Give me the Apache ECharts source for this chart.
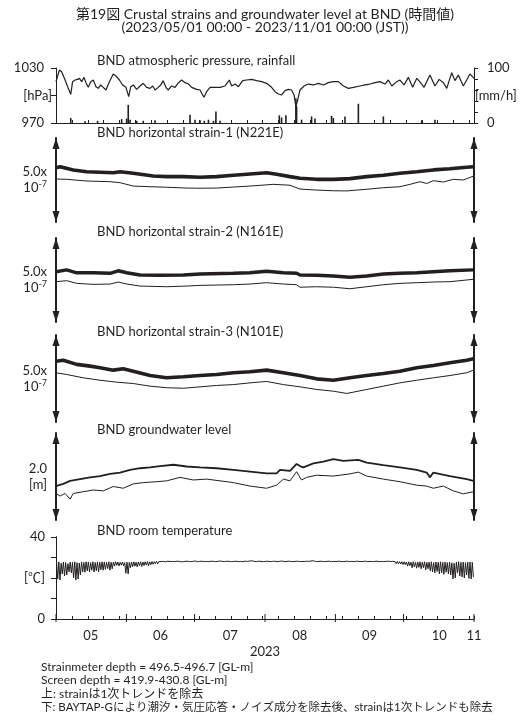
<!DOCTYPE html>
<html><head><meta charset="utf-8">
<script src="https://cdn.jsdelivr.net/npm/echarts@6/dist/echarts.min.js"></script>
<style>html,body{margin:0;padding:0;background:#fff}#c{width:524px;height:722px}</style>
</head><body><div id="c"></div>
<script>
// ---------------- data (x = days since 2023/05/01 00:00 JST) ----------------
const monthLabels = ['05','06','07','08','09','10','11'];
const monthStartDays = [0,31,61,92,123,153,184];

const pressDays = [0,1.5,2.5,4.0,5.4,6.5,7.3,8.4,9.4,10.3,11.3,12.3,13.2,14.2,15.3,16.4,17.6,18.6,19.7,20.8,22.0,23.5,25.2,26.4,27.9,29.3,30.8,32.0,32.9,34.0,35.5,37.0,38.4,39.9,41.4,42.6,43.6,45.0,46.1,47.2,48.4,49.4,50.9,52.4,53.9,55.3,56.8,58.3,59.7,61.9,63.4,65.1,66.3,67.8,70.0,72.2,74.4,76.3,77.3,78.8,80.3,82.2,83.9,86.1,88.3,90.5,92.7,94.9,96.4,97.9,99.3,100.8,102.3,103.7,104.8,105.6,106.4,107.4,109.2,111.1,113.3,115.5,117.7,119.9,122.1,124.3,126.5,128.7,130.9,133.8,136.0,138.2,140.4,142.6,144.8,146.3,147.8,150.0,151.4,153.2,155.1,157.0,158.8,160.5,162.0,164.6,166.8,168.7,170.5,172.0,174.2,175.6,177.1,179.3,180.8,182.2,184.0];
const pressHPa = [1015.1,1027.8,1026.0,1016.9,1007.8,1001.3,1015.1,1016.9,1017.6,1018.7,1015.1,1019.8,1014.0,1008.9,1015.1,1016.9,1009.6,1007.8,1011.5,1008.9,1006.0,1015.1,1023.5,1021.3,1016.9,1011.5,1008.9,998.7,1009.6,1011.5,1006.7,1010.4,1013.3,1008.9,1007.8,1010.4,1006.0,1008.9,1011.5,1016.2,1008.9,1006.0,1010.4,1008.9,1014.0,1016.9,1014.0,1012.5,1008.9,1006.7,1006.0,998.0,1004.2,1008.9,1008.9,1008.9,1010.4,1016.9,1010.4,1012.5,1009.6,1016.2,1016.9,1017.6,1016.2,1015.1,1013.3,1008.9,1004.2,1001.6,1000.5,1005.3,1006.7,1006.0,1000.5,987.8,995.1,1006.0,1010.4,1012.5,1011.5,1013.3,1011.5,1014.0,1015.1,1015.1,1010.4,1007.8,1008.9,1010.4,1011.5,1012.5,1014.0,1015.1,1012.5,1016.9,1010.4,1015.1,1016.9,1011.5,1019.8,1008.9,1018.7,1014.0,1008.9,1022.4,1010.4,1017.6,1014.0,1007.8,1024.9,1016.2,1022.4,1010.4,1016.9,1023.5,1018.7];

const rainDays = [6.5,12.8,18.3,28.9,31.1,31.8,32.6,35.5,38.4,43.6,59.0,61.2,63.4,65.3,67.1,69.3,70.4,72.2,98.3,99.3,101.2,105.6,105.9,108.1,112.5,114.0,121.3,122.1,127.2,133.1,144.1,161.0,166.8];
const rainMmH = [9,3,4,7,8,33,6,4,4,5,15,6,5,4,6,4,21,4,14,10,14,45,30,6,12,8,13,9,12,35,12,5,6];

// strains in units of 1e-8 (arrow = 5.0e-7)
const s1UpDays = [0,1.8,7.6,13.5,19.4,25.2,28.2,34.0,42.8,48.7,56.1,63.4,70.7,78.1,85.4,92.7,97.1,103.0,107.4,114.7,122.1,129.4,136.8,144.1,151.4,158.8,166.1,173.4,180.8,183.7];
const s1Up = [7.3,7.9,6.0,4.9,4.6,4.3,4.9,4.0,2.4,2.0,2.0,1.6,2.0,2.8,3.6,4.3,3.4,2.0,1.0,0.4,0.4,0.8,2.0,2.8,4.0,4.9,6.0,6.7,7.6,7.9];
const s1LoDays = [0,4.7,13.5,23.8,28.2,34.0,41.4,48.7,57.5,63.4,70.7,78.1,85.4,95.7,103.0,107.4,114.7,122.1,128.0,136.8,144.1,151.4,155.8,160.2,163.2,166.1,170.5,174.9,179.3,183.9];
const s1Lo = [0.6,0.4,-0.6,-1.0,-1.6,-3.6,-4.0,-4.3,-4.8,-4.9,-4.8,-4.2,-3.6,-2.6,-3.1,-5.4,-6.0,-6.4,-6.5,-5.5,-4.6,-4.0,-2.6,-1.0,-2.1,-0.4,-1.2,0.4,0.0,2.4];

const s2UpDays = [0,4.7,9.1,16.4,23.8,27.4,31.1,37.0,45.8,56.1,63.4,78.1,85.4,92.7,100.1,105.9,107.4,114.7,122.1,129.4,136.8,144.1,151.4,158.8,166.1,173.4,183.7];
const s2Up = [4.9,6.0,4.3,4.3,4.0,5.5,4.3,3.0,2.8,3.0,3.6,4.0,4.3,5.2,4.3,4.0,3.0,2.8,2.4,1.6,2.4,3.6,4.0,4.3,4.9,5.5,6.0];
const s2LoDays = [0,4.7,9.1,16.4,23.8,27.4,31.1,37.0,48.7,57.5,63.4,78.1,85.4,92.7,100.1,105.9,107.4,114.7,122.1,129.4,136.8,144.1,151.4,158.8,166.1,173.4,183.7];
const s2Lo = [-1.0,-0.4,-2.0,-2.6,-2.4,-1.2,-2.4,-3.6,-4.0,-3.6,-3.2,-2.8,-2.4,-1.6,-2.4,-2.8,-4.3,-4.0,-4.3,-5.2,-4.0,-2.8,-2.0,-1.6,-1.2,-1.0,0.4];

const s3UpDays = [0,3.2,9.1,15.0,19.4,25.2,29.6,34.0,41.4,48.7,56.1,63.4,70.7,78.1,85.4,92.7,100.1,107.4,114.7,122.1,129.4,136.8,144.1,151.4,158.8,166.1,173.4,180.8,183.7];
const s3Up = [9.9,10.5,8.1,7.1,6.2,4.8,5.6,4.2,1.7,0.4,1.0,1.7,2.3,3.3,3.9,4.8,3.3,1.7,-0.2,-1.0,0.4,1.7,2.9,4.2,6.2,7.5,9.0,10.5,11.3];
const s3LoDays = [0,4.7,12.0,19.4,26.7,34.0,41.4,48.7,56.1,63.4,70.7,78.1,85.4,92.7,100.1,107.4,114.7,122.1,128.0,136.8,144.1,151.4,158.8,166.1,173.4,180.8,183.7];
const s3Lo = [3.3,2.3,0.4,-1.0,-2.1,-2.9,-4.4,-5.3,-5.6,-4.8,-4.0,-3.5,-2.5,-1.7,-3.5,-4.8,-6.3,-7.3,-8.6,-6.3,-4.4,-2.5,-1.0,0.4,1.7,3.3,4.8];

// groundwater level in m (arrow = 2.0 m)
const gwUpDays = [0,3.2,6.2,10.6,15.0,19.4,23.8,28.2,32.6,37.0,41.4,45.8,51.7,57.5,63.4,70.7,78.1,85.4,92.7,97.1,98.6,103.0,105.9,107.4,108.9,113.3,117.7,122.1,126.5,133.1,136.8,144.1,151.4,158.8,163.2,164.6,166.1,173.4,180.8,183.7];
const gwUp = [-0.22,-0.17,-0.10,-0.06,-0.02,0.01,0.06,0.09,0.15,0.19,0.21,0.24,0.27,0.23,0.21,0.19,0.15,0.11,0.07,0.07,0.15,0.13,0.29,0.24,0.21,0.30,0.34,0.40,0.36,0.38,0.32,0.26,0.21,0.15,0.09,-0.02,0.09,0.01,-0.06,-0.10];
const gwLoDays = [0,1.8,4.0,6.2,7.6,12.0,16.4,20.8,25.2,29.6,34.0,38.4,44.3,48.7,54.6,60.4,66.3,72.2,78.1,85.4,92.7,97.1,100.1,103.0,105.9,108.1,110.3,114.7,122.1,129.4,133.1,136.8,144.1,151.4,158.8,163.2,166.1,170.5,174.9,179.3,183.7];
const gwLo = [-0.39,-0.45,-0.39,-0.52,-0.39,-0.35,-0.31,-0.33,-0.23,-0.27,-0.17,-0.14,-0.12,-0.10,-0.02,-0.08,-0.06,-0.10,-0.14,-0.22,-0.27,-0.20,-0.06,-0.10,0.11,-0.08,-0.02,0.03,0.01,0.06,0.10,0.01,-0.06,-0.12,-0.20,-0.22,-0.27,-0.22,-0.33,-0.40,-0.35];

// room temperature: daily high / low (deg C), one pair per day from 05/01
const tempHigh = [27.6,27.9,27.2,27.8,27.5,27.0,27.8,27.6,27.9,27.5,27.3,27.8,27.6,27.9,27.8,27.5,27.9,27.6,27.8,27.7,27.9,27.8,27.6,27.9,27.7,27.8,27.9,27.8,27.6,27.8,27.5,27.7,27.6,27.8,27.9,27.7,27.8,27.9,27.8,27.9,28.0,27.9,28.0,28.0,28.1,28.0,
28.0,28.1,27.9,28.2,28.0,28.1,28.0,28.2,28.1,27.9,28.0,28.2,28.1,28.0,28.1,28.3,28.0,28.1,28.2,28.0,28.1,28.0,28.2,28.1,28.0,28.1,28.3,28.1,28.0,28.2,28.1,28.0,28.1,28.2,28.0,28.1,28.0,28.2,28.1,28.3,28.4,28.1,28.0,28.2,28.1,28.0,28.1,28.2,28.0,28.1,28.2,28.0,28.1,28.3,28.1,28.0,28.2,28.1,28.0,28.1,28.2,28.0,28.1,28.0,28.2,28.1,28.3,28.4,28.1,28.0,28.2,28.1,28.0,28.1,28.2,28.0,28.1,28.0,28.2,28.1,28.0,28.1,28.2,28.0,28.1,28.0,28.2,28.1,28.0,28.1,28.2,28.0,28.1,28.0,28.1,28.2,28.0,28.1,28.0,28.1,28.2,28.0,28.1,28.0,28.1,28.0,27.9,
27.9,27.8,27.9,27.7,27.9,27.6,27.8,27.9,27.7,27.9,27.6,27.8,27.9,27.5,27.8,27.7,27.9,27.6,27.8,27.5,27.7,27.4,27.2,27.8,27.9,27.6,27.8,27.5,27.7,27.8,27.6];
const tempLow = [19.5,19.0,22.0,21.0,21.5,23.0,22.5,20.0,19.0,19.5,21.5,23.0,22.8,23.5,23.0,23.8,22.9,23.5,23.0,24.0,23.8,24.2,24.6,23.8,24.5,25.8,26.2,25.9,26.3,26.0,22.3,22.0,25.0,25.5,25.8,25.4,26.0,25.6,26.1,26.3,26.0,26.5,26.7,27.0,26.9,27.1,
27.3,27.4,27.2,27.5,27.3,27.4,27.2,27.5,27.3,27.4,27.3,27.5,27.4,27.2,27.4,27.5,27.3,27.4,27.5,27.3,27.4,27.3,27.5,27.4,27.3,27.4,27.6,27.4,27.3,27.5,27.4,27.3,27.4,27.5,27.3,27.4,27.3,27.5,27.4,27.6,27.7,27.4,27.3,27.5,27.4,27.3,27.4,27.5,27.3,27.4,27.5,27.3,27.4,27.6,27.4,27.3,27.5,27.4,27.3,27.4,27.5,27.3,27.4,27.3,27.5,27.4,27.6,27.7,27.4,27.3,27.5,27.4,27.3,27.4,27.5,27.3,27.4,27.3,27.5,27.4,27.3,27.4,27.5,27.3,27.4,27.3,27.5,27.4,27.3,27.4,27.5,27.3,27.4,27.3,27.4,27.5,27.3,27.4,27.3,27.2,27.3,27.1,27.2,27.0,26.9,26.8,26.6,
26.5,25.8,26.0,25.0,25.5,24.8,25.2,24.5,25.0,24.0,24.5,23.5,23.0,22.5,23.2,22.0,22.5,21.8,22.8,22.0,21.5,19.5,20.0,22.5,21.0,20.5,20.0,21.5,19.8,19.5,20.5];

// ---------------- chart ----------------
const INK = '#231f20';
const FONT = 'Lato, "Noto Sans CJK JP", sans-serif';
const pairs = (xs, ys) => xs.map((x, i) => [x, ys[i]]);
const tempSeries = [];
tempHigh.forEach((h, i) => { tempSeries.push([i + 0.25, h]); if (tempLow[i] != null) tempSeries.push([i + 0.75, tempLow[i]]); });

const grids = [
  {top: 68, height: 55},
  {top: 138, height: 84},
  {top: 238, height: 84},
  {top: 335, height: 87},
  {top: 433, height: 87},
  {top: 537, height: 82}
].map(g => Object.assign({left: 56, right: 50}, g));

const dayAxis = (gi, show) => ({
  type: 'value', gridIndex: gi, position: 'bottom', min: 0, max: 184, interval: 7,
  show: show, splitLine: {show: false},
  axisLine: {show: show, onZero: false, lineStyle: {color: INK, width: 1}},
  axisTick: {show: show, inside: true, length: 3, lineStyle: {color: INK}},
  axisLabel: {show: false}
});

const arrowAxis = (gi, pos, lim, labelText) => ({
  type: 'value', gridIndex: gi, position: pos, min: -lim, max: lim, interval: lim,
  splitLine: {show: false},
  axisLine: {show: true, onZero: false, symbol: ['triangle', 'triangle'], symbolSize: [7, 11], symbolOffset: [5.5, -5.5],
    lineStyle: {color: INK, width: 2}},
  axisTick: {show: false},
  axisLabel: {show: !!labelText, margin: 9, color: INK, fontSize: 13, fontFamily: FONT, lineHeight: 16,
    formatter: v => (v === 0 ? labelText : ''),
    rich: {s: {fontSize: 9, verticalAlign: 'top', lineHeight: 16, fontFamily: FONT, color: INK}}}
});

const xAxes = [
  dayAxis(0, true),
  dayAxis(1, false), dayAxis(2, false), dayAxis(3, false), dayAxis(4, false),
  dayAxis(5, true),
  {
    type: 'value', gridIndex: 5, position: 'bottom', offset: 0, min: 0, max: 6, interval: 0.5,
    splitLine: {show: false}, axisLine: {show: false, onZero: false}, axisTick: {show: false},
    axisLabel: {show: true, margin: 10, color: INK, fontSize: 13, fontFamily: FONT,
      formatter: v => (Math.abs(v % 1 - 0.5) < 1e-6 ? monthLabels[Math.floor(v)] : (v === 6 ? monthLabels[6] : ''))},
    name: '2023', nameLocation: 'middle', nameGap: 26,
    nameTextStyle: {color: INK, fontSize: 13, fontFamily: FONT}
  }
];

const yAxes = [
  // 0: pressure left
  {type: 'value', gridIndex: 0, position: 'left', min: 970, max: 1030, interval: 30,
    splitLine: {show: false}, axisLine: {show: true, lineStyle: {color: INK}},
    axisTick: {show: true, length: 5, lineStyle: {color: INK}},
    axisLabel: {margin: 4, color: INK, fontSize: 13, fontFamily: FONT,
      formatter: v => (v === 1000 ? '[hPa]' : '{n|' + v + '}'),
      rich: {n: {padding: [0, 8, 0, 0], fontSize: 13, fontFamily: FONT, color: INK}}}},
  // 1: rain right (ticks)
  {type: 'value', gridIndex: 0, position: 'right', min: 0, max: 100, interval: 20,
    splitLine: {show: false}, axisLine: {show: true, lineStyle: {color: INK}},
    axisTick: {show: true, length: 4, lineStyle: {color: INK}}, axisLabel: {show: false}},
  // 2: rain right (labels)
  {type: 'value', gridIndex: 0, position: 'right', min: 0, max: 100, interval: 50,
    splitLine: {show: false}, axisLine: {show: false}, axisTick: {show: false},
    axisLabel: {margin: 1, color: INK, fontSize: 13, fontFamily: FONT,
      formatter: v => (v === 50 ? '[mm/h]' : '{n|' + v + '}'),
      rich: {n: {padding: [0, 0, 0, 12], fontSize: 13, fontFamily: FONT, color: INK}}}},
  // 3-10: strain & groundwater arrows
  arrowAxis(1, 'left', 25, '5.0x\n10{s|-7}'), arrowAxis(1, 'right', 25, null),
  arrowAxis(2, 'left', 25, '5.0x\n10{s|-7}'), arrowAxis(2, 'right', 25, null),
  arrowAxis(3, 'left', 25, '5.0x\n10{s|-7}'), arrowAxis(3, 'right', 25, null),
  arrowAxis(4, 'left', 1, '2.0\n[m]'), arrowAxis(4, 'right', 1, null),
  // 11: temperature left
  {type: 'value', gridIndex: 5, position: 'left', min: 0, max: 40, interval: 10,
    splitLine: {show: false}, axisLine: {show: true, lineStyle: {color: INK}},
    axisTick: {show: true, length: 5, lineStyle: {color: INK}},
    axisLabel: {margin: 11, color: INK, fontSize: 13, fontFamily: FONT,
      formatter: v => (v === 20 ? '[℃]' : (v === 0 || v === 40 ? String(v) : ''))}},
  // 12: temperature right
  {type: 'value', gridIndex: 5, position: 'right', min: 0, max: 40, interval: 40,
    splitLine: {show: false}, axisLine: {show: true, lineStyle: {color: INK}},
    axisTick: {show: false}, axisLabel: {show: false}}
];

const line = (xi, yi, data, w) => ({
  type: 'line', xAxisIndex: xi, yAxisIndex: yi, data: data, showSymbol: false, symbol: 'none',
  lineStyle: {color: INK, width: w}, silent: true, clip: false, z: 3
});

const series = [
  line(0, 0, pairs(pressDays, pressHPa), 1.2),
  {type: 'bar', xAxisIndex: 0, yAxisIndex: 1, data: pairs(rainDays, rainMmH), barWidth: 1.6,
    itemStyle: {color: INK}, silent: true},
  line(1, 3, pairs(s1UpDays, s1Up), 3.6),
  line(1, 3, pairs(s1LoDays, s1Lo), 1),
  line(2, 5, pairs(s2UpDays, s2Up), 3.4),
  line(2, 5, pairs(s2LoDays, s2Lo), 1),
  line(3, 7, pairs(s3UpDays, s3Up), 3.6),
  line(3, 7, pairs(s3LoDays, s3Lo), 1),
  line(4, 9, pairs(gwUpDays, gwUp), 1.8),
  line(4, 9, pairs(gwLoDays, gwLo), 1),
  line(5, 11, tempSeries, 1),
  {type: 'custom', xAxisIndex: 5, yAxisIndex: 11, data: monthStartDays.map(d => [d, 0]), silent: true, z: 4,
    renderItem: (params, api) => {
      const p = api.coord([api.value(0), 0]);
      return {type: 'line', shape: {x1: p[0], y1: p[1] - 5, x2: p[0], y2: p[1] + 3},
        style: {stroke: INK, lineWidth: 1}};
    }}
];

const txt = (x, y, text, opts) => ({
  type: 'text', x: x, y: y, silent: true,
  style: Object.assign({text: text, fill: INK, font: '13px ' + FONT, align: 'left', verticalAlign: 'middle'}, opts || {})
});

const graphics = [
  txt(265, 14, '第19図 Crustal strains and groundwater level at BND (時間値)', {align: 'center', font: '14px ' + FONT}),
  txt(265, 27, '(2023/05/01 00:00 - 2023/11/01 00:00 (JST))', {align: 'center', font: '14px ' + FONT}),
  txt(97, 61, 'BND atmospheric pressure, rainfall'),
  txt(97, 133, 'BND horizontal strain-1 (N221E)'),
  txt(97, 232, 'BND horizontal strain-2 (N161E)'),
  txt(97, 332, 'BND horizontal strain-3 (N101E)'),
  txt(97, 430, 'BND groundwater level'),
  txt(97, 531, 'BND room temperature'),
  txt(41, 667, 'Strainmeter depth = 496.5-496.7 [GL-m]', {font: '12px ' + FONT}),
  txt(41, 680, 'Screen depth = 419.9-430.8 [GL-m]', {font: '12px ' + FONT}),
  txt(41, 694, '上: strainは1次トレンドを除去', {font: '12px ' + FONT}),
  txt(41, 707, '下: BAYTAP-Gにより潮汐・気圧応答・ノイズ成分を除去後、strainは1次トレンドも除去', {font: '11.5px ' + FONT})
];

const chart = echarts.init(document.getElementById('c'), null, {renderer: 'canvas'});
chart.setOption({
  animation: false,
  backgroundColor: '#ffffff',
  textStyle: {fontFamily: FONT, color: INK},
  grid: grids,
  xAxis: xAxes,
  yAxis: yAxes,
  series: series,
  graphic: graphics
});
</script>
</body></html>
